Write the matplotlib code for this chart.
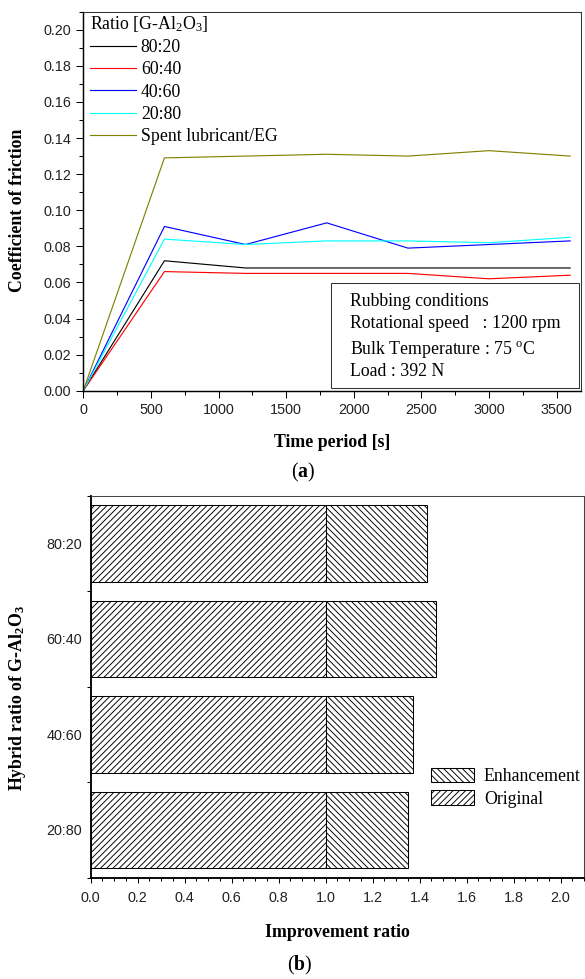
import matplotlib
matplotlib.use("Agg")
import matplotlib.pyplot as plt
from matplotlib.ticker import MultipleLocator, FormatStrFormatter, FixedLocator
from matplotlib.patches import Rectangle

plt.rcParams['mathtext.fontset'] = 'custom'
plt.rcParams['mathtext.rm'] = 'Liberation Serif'
plt.rcParams['mathtext.it'] = 'Liberation Serif:italic'
plt.rcParams['mathtext.bf'] = 'Liberation Serif:bold'
plt.rcParams['hatch.linewidth'] = 0.9

# ---------------- data (a) ----------------
time_s = [0, 600, 1200, 1800, 2400, 3000, 3600]
cof_80_20 = [0.0, 0.072, 0.068, 0.068, 0.068, 0.068, 0.068]
cof_60_40 = [0.0, 0.066, 0.065, 0.065, 0.065, 0.062, 0.064]
cof_40_60 = [0.0, 0.091, 0.081, 0.093, 0.079, 0.081, 0.083]
cof_20_80 = [0.0, 0.084, 0.081, 0.083, 0.083, 0.082, 0.085]
cof_spent = [0.0, 0.129, 0.130, 0.131, 0.130, 0.133, 0.130]
series_labels = ['80:20', '60:40', '40:60', '20:80', 'Spent lubricant/EG']
series_colors = ['#000000', '#ff0000', '#0000ff', '#00ffff', '#808000']

# ---------------- data (b) ----------------
hybrid_ratios = ['20:80', '40:60', '60:40', '80:20']
original_ratio = [1.0, 1.0, 1.0, 1.0]
improvement_ratio = [1.35, 1.37, 1.47, 1.43]

DPI = 75
W, H = 585, 979
fig = plt.figure(figsize=(W / DPI, H / DPI), dpi=DPI)

SERIF = 'Liberation Serif'
SANS = 'Liberation Sans'
TXT = 17
TICK = 13.8
TICKC = '#222222'

def px_axes(l, t, r, b):
    return [l / W, 1 - b / H, (r - l) / W, (b - t) / H]

# ================= panel (a) =================
ax = fig.add_axes(px_axes(83.3, 11.7, 581, 390.7))
all_series = [cof_80_20, cof_60_40, cof_40_60, cof_20_80, cof_spent]
lines = []
for vals, lab, col in zip(all_series, series_labels, series_colors):
    ln, = ax.plot(time_s, vals, color=col, lw=1.1, label=lab)
    lines.append(ln)

ax.set_xlim(0, 3680)
ax.set_ylim(0, 0.21)
ax.xaxis.set_major_locator(MultipleLocator(500))
ax.xaxis.set_minor_locator(MultipleLocator(250))
ax.yaxis.set_major_locator(FixedLocator([i * 0.02 for i in range(11)]))
ax.yaxis.set_minor_locator(FixedLocator([0.01 + i * 0.02 for i in range(11)]))
ax.yaxis.set_major_formatter(FormatStrFormatter('%.2f'))
ax.tick_params(which='both', direction='out', top=False, right=False,
               labelsize=TICK, labelcolor=TICKC, width=1.0)
ax.tick_params(which='major', length=6.5, pad=5)
ax.tick_params(which='minor', length=3.8)
for lab in ax.get_xticklabels() + ax.get_yticklabels():
    lab.set_fontfamily(SANS)
for s in ['left', 'bottom']:
    ax.spines[s].set_linewidth(1.4)
for s in ['top', 'right']:
    ax.spines[s].set_linewidth(1.0)
    ax.spines[s].set_color('#333333')

ax.set_xlabel('Time period [s]', fontfamily=SERIF, fontweight='bold', fontsize=TXT)
ax.xaxis.set_label_coords(0.5, -0.115)
ax.set_ylabel('Coefficient of friction', fontfamily=SERIF, fontweight='bold', fontsize=TXT)
ax.yaxis.set_label_coords(-0.115, 0.477)

leg = ax.legend(handles=lines, loc='upper left', bbox_to_anchor=(0.0135, 0.995),
                frameon=False, borderpad=0, borderaxespad=0,
                prop={'family': SERIF, 'size': TXT},
                title=r'Ratio [G-Al$_2$O$_3$]',
                title_fontproperties={'family': SERIF, 'size': TXT},
                alignment='left', handlelength=2.6, handletextpad=0.27,
                labelspacing=0.3)

# rubbing conditions box
ax.add_patch(Rectangle((0.497, 0.008), 0.499, 0.275, transform=ax.transAxes,
                       fill=False, edgecolor='#333333', lw=1.0, zorder=5))
box_lines = ['Rubbing conditions', 'Rotational speed   : 1200 rpm',
             r'Bulk Temperature : 75 $^\mathrm{o}$C', 'Load : 392 N']
box_y = [0.236, 0.177, 0.109, 0.050]
for t, y in zip(box_lines, box_y):
    ax.text(0.535, y, t, transform=ax.transAxes, fontfamily=SERIF,
            fontsize=TXT, va='center', ha='left')

fig.text(303 / W, 1 - 472 / H, r'($\mathbf{a}$)', fontfamily=SERIF,
         fontsize=19, ha='center', va='center')

# ================= panel (b) =================
bx = fig.add_axes(px_axes(90.7, 495.7, 584, 877.7))
ypos = list(range(len(hybrid_ratios)))
enh_width = [i - o for i, o in zip(improvement_ratio, original_ratio)]
b_orig = bx.barh(ypos, original_ratio, height=0.8, color='white',
                 edgecolor='black', hatch='////', lw=1.0, label='Original')
b_enh = bx.barh(ypos, enh_width, left=original_ratio, height=0.8,
                color='white', edgecolor='black', hatch='\\\\\\\\', lw=1.0,
                label='Enhancement')
bx.set_xlim(0, 2.1)
bx.set_ylim(-0.5, 3.5)
bx.xaxis.set_major_locator(FixedLocator([i * 0.2 for i in range(11)]))
bx.xaxis.set_minor_locator(MultipleLocator(0.05))
bx.xaxis.set_major_formatter(FormatStrFormatter('%.1f'))
bx.set_yticks(ypos)
bx.set_yticklabels(hybrid_ratios)
bx.yaxis.set_minor_locator(FixedLocator([-0.5, 0.5, 1.5, 2.5, 3.5]))
bx.tick_params(which='both', direction='out', top=False, right=False,
               labelsize=TICK, labelcolor=TICKC, width=1.0)
bx.tick_params(axis='x', which='major', length=5, pad=8)
bx.tick_params(axis='x', which='minor', length=3)
bx.tick_params(axis='y', which='major', length=0, pad=8)
bx.tick_params(axis='y', which='minor', length=4)
for lab in bx.get_xticklabels() + bx.get_yticklabels():
    lab.set_fontfamily(SANS)
for s in ['left', 'bottom']:
    bx.spines[s].set_linewidth(1.8)
for s in ['top', 'right']:
    bx.spines[s].set_linewidth(1.0)
    bx.spines[s].set_color('#444444')

bx.set_xlabel('Improvement ratio', fontfamily=SERIF, fontweight='bold', fontsize=TXT)
bx.xaxis.set_label_coords(0.5, -0.12)
bx.set_ylabel(r'Hybrid ratio of G-Al$_\mathbf{2}$O$_\mathbf{3}$', fontfamily=SERIF,
              fontweight='bold', fontsize=TXT)
bx.yaxis.set_label_coords(-0.127, 0.47)

bx.legend(handles=[b_enh, b_orig], loc='upper left', bbox_to_anchor=(0.689, 0.287),
          frameon=False, borderpad=0, borderaxespad=0,
          prop={'family': SERIF, 'size': TXT}, handlelength=2.46,
          handleheight=0.87, handletextpad=0.55, labelspacing=0.28)

fig.text(300 / W, 1 - 965 / H, r'($\mathbf{b}$)', fontfamily=SERIF,
         fontsize=19, ha='center', va='center')

fig.savefig('out.png', dpi=DPI)
